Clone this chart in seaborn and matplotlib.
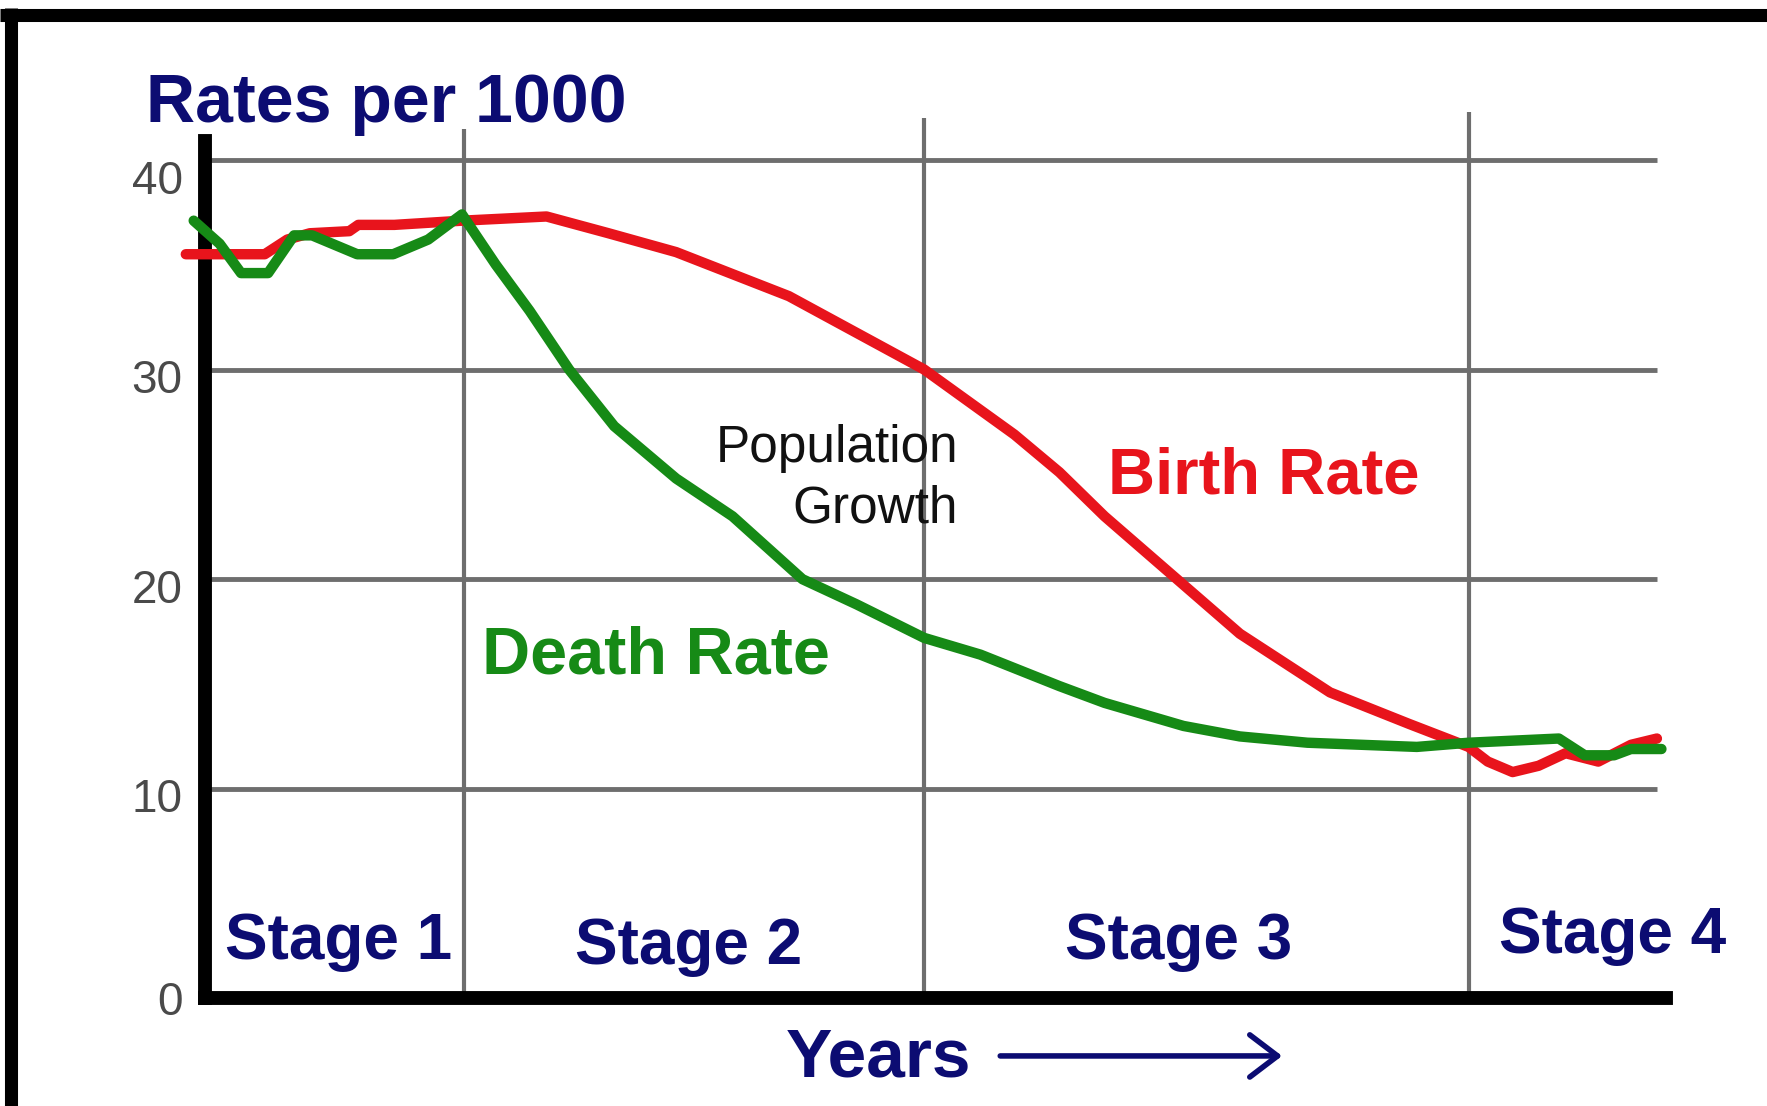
import matplotlib
matplotlib.use("Agg")
import matplotlib.pyplot as plt
import matplotlib.transforms as mtransforms
import seaborn as sns
import pandas as pd

# Datos (x en unidades arbitrarias de "años", y en tasa por 1000)
birth_x = [-1.7, 1.8, 5.3, 7.3, 9.3, 12.8, 13.6, 16.8, 22.8, 30.3, 35.8, 41.8, 51.8, 63.8,
           71.8, 75.8, 79.8, 85.8, 91.8, 99.8, 106.8, 112.1, 113.8, 116.0, 118.3, 120.7,
           123.6, 126.5, 128.8]
birth_y = [35.5, 35.5, 35.5, 36.2, 36.5, 36.6, 36.9, 36.9, 37.1, 37.3, 36.5, 35.6, 33.5, 30.0,
           26.9, 25.1, 23.0, 20.2, 17.4, 14.6, 13.1, 12.0, 11.3, 10.8, 11.1, 11.7,
           11.3, 12.1, 12.4]

death_x = [-1.0, 1.3, 3.2, 5.6, 7.9, 9.5, 13.5, 16.7, 19.8, 22.8, 25.8, 28.8, 32.3, 36.3,
           41.8, 46.8, 53.0, 57.8, 63.8, 68.8, 75.8, 79.8, 86.8, 91.8, 97.8, 107.5,
           112.1, 120.1, 122.4, 125.0, 126.5, 129.2]
death_y = [37.1, 36.0, 34.6, 34.6, 36.4, 36.4, 35.5, 35.5, 36.2, 37.4, 35.0, 32.8, 30.0, 27.3,
           24.8, 23.0, 20.0, 18.8, 17.2, 16.4, 14.9, 14.1, 13.0, 12.5, 12.2, 12.0,
           12.2, 12.4, 11.6, 11.6, 11.9, 11.9]

y_ticks = [0, 10, 20, 30, 40]
stage_bounds = [23.0, 63.8, 112.1]
stage_tops = [41.45, 42.0, 42.3]
stage_labels = ["Stage 1", "Stage 2", "Stage 3", "Stage 4"]
stage_label_x = [1.8, 32.8, 76.3, 114.8]
stage_label_y = [1.9, 1.65, 1.9, 2.15]

navy = "#0c0c72"
red = "#e8141c"
green = "#168a16"
grid_gray = "#6e6e6e"

df_birth = pd.DataFrame({"x": birth_x, "y": birth_y})
df_death = pd.DataFrame({"x": death_x, "y": death_y})

sns.set_style("white")
plt.rcParams["font.family"] = ["Liberation Sans", "DejaVu Sans"]

fig = plt.figure(figsize=(17.67, 11.06), dpi=100)
ax = fig.add_axes([0.116, 0.0972, 0.8268, 0.7753])

ax.set_xlim(0, 129.6)
ax.set_ylim(0, 40.9)

# Rejilla
ax.hlines([10, 20, 30, 40], 0, 128.8, color=grid_gray, lw=3.5, zorder=1)
for bx, top in zip(stage_bounds, stage_tops):
    ax.vlines(bx, 0, top, color=grid_gray, lw=3.0, zorder=1, clip_on=False)

# Curvas
sns.lineplot(data=df_birth, x="x", y="y", ax=ax, color=red, linewidth=7.5, estimator=None,
             clip_on=False, zorder=4)
sns.lineplot(data=df_death, x="x", y="y", ax=ax, color=green, linewidth=7.5, estimator=None,
             clip_on=False, zorder=5)

# Ejes
for side in ["top", "right"]:
    ax.spines[side].set_visible(False)
for side in ["left", "bottom"]:
    ax.spines[side].set_linewidth(10)
    ax.spines[side].set_color("black")
    ax.spines[side].set_zorder(3)

ax.set_xticks([])
ax.set_yticks(y_ticks)
ax.set_yticklabels([str(t) for t in y_ticks])
ax.tick_params(axis="y", length=0, pad=16, labelsize=33, labelcolor="#4a4a4a")
label_shift = [0.0, 0.06, 0.07, 0.06, 0.17]
for lab, dy in zip(ax.get_yticklabels(), label_shift):
    offset = mtransforms.ScaledTranslation(0, -dy, fig.dpi_scale_trans)
    lab.set_transform(lab.get_transform() + offset)
ax.set_xlabel("")
ax.set_ylabel("")

# Textos
ax.text(-5.2, 41.8, "Rates per 1000", color=navy, fontsize=49, fontweight="bold",
        ha="left", va="baseline", clip_on=False)
for lx, ly, lab in zip(stage_label_x, stage_label_y, stage_labels):
    ax.text(lx, ly, lab, color=navy, fontsize=46, fontweight="bold",
            ha="left", va="baseline", zorder=6)

ax.text(80.1, 24.1, "Birth Rate", color=red, fontsize=47, fontweight="bold",
        ha="left", va="baseline")
ax.text(24.6, 15.5, "Death Rate", color=green, fontsize=48, fontweight="bold",
        ha="left", va="baseline")
ax.text(66.8, 25.6, "Population", color="#111111", fontsize=37, ha="right", va="baseline")
ax.text(66.8, 22.7, "Growth", color="#111111", fontsize=37, ha="right", va="baseline")

ax.text(51.5, -3.7, "Years", color=navy, fontsize=50, fontweight="bold",
        ha="left", va="baseline", clip_on=False)
ax.annotate("", xy=(95.8, -2.74), xytext=(70.3, -2.74), annotation_clip=False,
            arrowprops=dict(arrowstyle="->,head_length=0.5,head_width=0.38",
                            lw=4, color=navy, mutation_scale=40))

# Marco exterior
fig.add_artist(plt.Line2D([0.0, 1.0], [0.9864, 0.9864], color="black", lw=9.4,
                          solid_capstyle="butt", transform=fig.transFigure))
fig.add_artist(plt.Line2D([0.0062, 0.0062], [0.0, 0.9925], color="black", lw=9.4,
                          solid_capstyle="butt", transform=fig.transFigure))

fig.savefig("out.png", dpi=100, facecolor="white")
